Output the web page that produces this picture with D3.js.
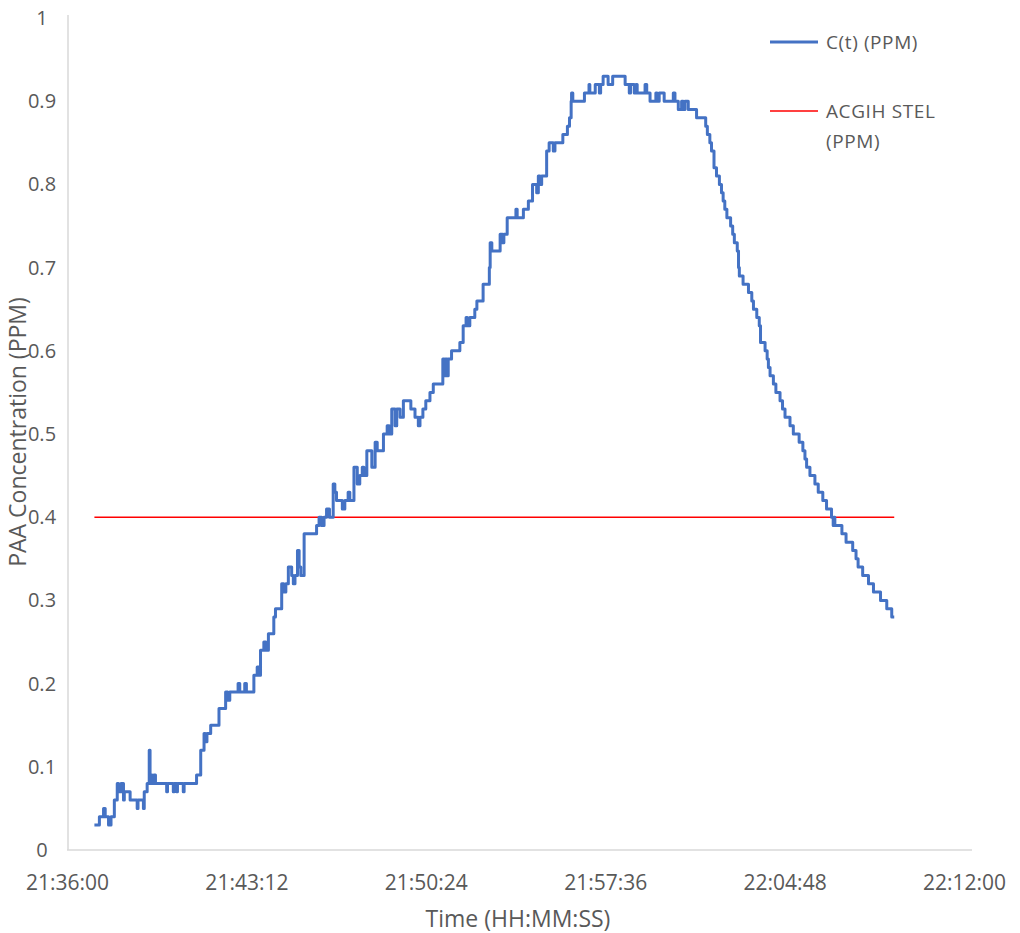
<!DOCTYPE html>
<html lang="en">
<head>
    <meta charset="UTF-8">
    <title>PAA Concentration</title>
    <script src="https://d3js.org/d3.v7.min.js"></script>
    <style>
        body {
            margin: 0;
            background: #fff;
            font-family: "Open Sans", Arial, sans-serif;
        }
        .tick text {
            fill: #595959;
        }
    </style>
</head>
<body>
    <div class="chart"></div>

    <script>
        // seconds after 21:36:00 and the measured concentration (ppm)
        const elapsedSec = [
            66, 74, 78, 86, 88, 92, 96, 100, 104, 106, 112, 114, 118, 121, 124, 130, 136, 138, 149, 152,
            166, 169, 171, 181, 184, 186, 191, 193, 196, 198, 200, 202, 205, 209, 213, 238, 240, 242, 254, 256,
            258, 262, 264, 266, 278, 280, 282, 310, 312, 318, 322, 326, 330, 333, 337, 341, 346, 362, 366, 375,
            382, 387, 392, 408, 412, 416, 424, 428, 432, 444, 450, 458, 462, 466, 470, 474, 479, 485, 490, 498,
            502, 510, 517, 522, 527, 533, 541, 545, 549, 555, 559, 563, 567, 571, 589, 601, 607, 613, 619, 625,
            632, 637, 641, 645, 649, 657, 663, 669, 677, 681, 691, 699, 705, 711, 715, 722, 730, 734, 742, 747,
            758, 762, 771, 776, 782, 790, 794, 802, 810, 822, 828, 838, 846, 850, 857, 864, 874, 882, 900, 905,
            908, 911, 915, 918, 926, 942, 946, 954, 961, 964, 970, 978, 982, 987, 996, 1002, 1014, 1017, 1019, 1023,
            1039, 1043, 1049, 1052, 1060, 1079, 1081, 1084, 1095, 1099, 1107, 1111, 1117, 1121, 1127, 1131, 1135, 1139, 1143, 1151,
            1155, 1161, 1167, 1171, 1175, 1189, 1194, 1199, 1205, 1210, 1214, 1215, 1218, 1242, 1246, 1254, 1257, 1259, 1269, 1272,
            1279, 1282, 1285, 1291, 1300, 1303, 1309, 1314, 1336, 1344, 1349, 1354, 1357, 1364, 1366, 1370, 1373, 1388, 1392, 1396,
            1400, 1404, 1413, 1418, 1421, 1426, 1434, 1438, 1456, 1460, 1464, 1468, 1472, 1476, 1480, 1484, 1488, 1492, 1496, 1512,
            1516, 1532, 1538, 1542, 1548, 1552, 1558, 1564, 1571, 1576, 1580, 1584, 1589, 1598, 1603, 1607, 1614, 1617, 1619, 1628,
            1641, 1649, 1653, 1661, 1667, 1670, 1681, 1686, 1689, 1693, 1701, 1707, 1717, 1723, 1729, 1741, 1749, 1763, 1772, 1777,
            1781, 1789, 1801, 1809, 1820, 1829, 1841, 1845, 1847, 1849, 1866, 1876, 1892, 1900, 1905, 1916, 1930, 1942, 1959, 1974,
            1986, 1992
        ];
        const ppm = [
            .03, .03, .04, .04, .05, .04, .04, .03, .03, .04, .04, .06, .06, .08, .07, .08, .06, .07, .07, .06,
            .06, .05, .06, .06, .05, .07, .07, .08, .08, .12, .08, .09, .08, .09, .08, .08, .07, .08, .08, .07,
            .08, .08, .07, .08, .08, .07, .08, .08, .09, .09, .12, .12, .14, .13, .14, .14, .15, .15, .17, .17,
            .19, .18, .19, .19, .20, .19, .19, .20, .19, .19, .21, .22, .21, .24, .24, .25, .24, .26, .26, .28,
            .29, .29, .32, .31, .32, .34, .33, .32, .33, .36, .34, .33, .33, .38, .38, .39, .40, .39, .40, .41,
            .40, .40, .44, .43, .42, .42, .41, .42, .43, .42, .46, .44, .45, .46, .45, .48, .48, .46, .49, .48,
            .48, .50, .51, .50, .53, .51, .53, .52, .54, .54, .53, .52, .51, .52, .53, .54, .55, .56, .56, .59,
            .57, .59, .57, .59, .60, .60, .61, .63, .64, .63, .64, .64, .65, .66, .66, .68, .68, .70, .73, .72,
            .72, .74, .73, .74, .76, .76, .77, .76, .76, .77, .77, .78, .78, .80, .80, .79, .81, .80, .81, .81,
            .84, .85, .85, .84, .85, .85, .86, .86, .87, .88, .90, .91, .90, .90, .91, .91, .92, .91, .91, .92,
            .92, .91, .92, .93, .93, .92, .92, .93, .93, .92, .92, .91, .92, .92, .91, .92, .91, .91, .92, .91,
            .91, .90, .90, .91, .90, .91, .91, .90, .90, .91, .90, .90, .89, .89, .90, .89, .90, .90, .89, .89,
            .88, .88, .87, .86, .85, .84, .82, .81, .80, .79, .78, .77, .76, .75, .74, .73, .72, .70, .69, .68,
            .67, .66, .65, .64, .63, .61, .60, .59, .58, .57, .56, .55, .54, .53, .52, .51, .50, .49, .48, .47,
            .46, .45, .44, .43, .42, .41, .40, .39, .40, .39, .38, .37, .36, .35, .34, .33, .32, .31, .30, .29,
            .28, .28
        ];
        const stelPPM = 0.4;
        const xTickLabels = ['21:36:00', '21:43:12', '21:50:24', '21:57:36', '22:04:48', '22:12:00'];
        const yTicks = [0, 0.1, 0.2, 0.3, 0.4, 0.5, 0.6, 0.7, 0.8, 0.9, 1];
        const seriesNames = ['C(t) (PPM)', 'ACGIH STEL (PPM)'];

        const W = 1020, H = 933;
        const parseClock = d3.timeParse('%H:%M:%S');
        const start = parseClock('21:36:00');
        const toDate = s => new Date(start.getTime() + s * 1000);

        const data = elapsedSec.map((s, i) => ({ t: toDate(s), v: ppm[i] }));

        const svg = d3.select('.chart')
            .append('svg')
            .attr('width', W)
            .attr('height', H);

        const x = d3.scaleTime()
            .domain([parseClock(xTickLabels[0]), parseClock(xTickLabels[xTickLabels.length - 1])])
            .range([67, 964]);

        const y = d3.scaleLinear()
            .domain([0, 1])
            .range([850, 18]);

        // axis lines
        svg.append('line')
            .attr('x1', 68).attr('x2', 68)
            .attr('y1', 15).attr('y2', y(0))
            .attr('stroke', '#d9d9d9').attr('stroke-width', 1.5);
        svg.append('line')
            .attr('x1', 67).attr('x2', 972)
            .attr('y1', y(0)).attr('y2', y(0))
            .attr('stroke', '#d9d9d9').attr('stroke-width', 1.5);

        const yAxis = svg.append('g')
            .attr('transform', 'translate(68,0)')
            .call(d3.axisLeft(y).tickValues(yTicks).tickSize(0).tickFormat(d3.format('~g')));
        yAxis.select('.domain').remove();
        yAxis.selectAll('text')
            .attr('x', -26)
            .attr('text-anchor', 'middle')
            .attr('font-family', '"Open Sans", sans-serif')
            .attr('font-size', 20);

        const xAxis = svg.append('g')
            .attr('transform', `translate(0,${y(0)})`)
            .call(d3.axisBottom(x)
                .tickValues(xTickLabels.map(parseClock))
                .tickSize(0)
                .tickPadding(25)
                .tickFormat(d3.timeFormat('%H:%M:%S')));
        xAxis.select('.domain').remove();
        xAxis.selectAll('text')
            .attr('font-family', '"Open Sans", sans-serif')
            .attr('font-size', 21);

        // STEL line
        const ext = d3.extent(data, d => d.t);
        svg.append('line')
            .attr('x1', x(ext[0])).attr('x2', x(ext[1]))
            .attr('y1', y(stelPPM)).attr('y2', y(stelPPM))
            .attr('stroke', '#ff0000').attr('stroke-width', 1.5);

        const line = d3.line()
            .x(d => x(d.t))
            .y(d => y(d.v))
            .curve(d3.curveStepAfter);

        svg.append('path')
            .datum(data)
            .attr('fill', 'none')
            .attr('stroke', '#4472c4')
            .attr('stroke-width', 3)
            .attr('stroke-linejoin', 'round')
            .attr('d', line);

        // axis titles
        svg.append('text')
            .attr('transform', 'translate(26,432) rotate(-90)')
            .attr('text-anchor', 'middle')
            .attr('font-size', 23)
            .attr('fill', '#595959')
            .text('PAA Concentration (PPM)');

        svg.append('text')
            .attr('x', 518).attr('y', 927)
            .attr('text-anchor', 'middle')
            .attr('font-size', 23)
            .attr('fill', '#595959')
            .text('Time (HH:MM:SS)');

        // legend
        const legend = svg.append('g')
            .attr('font-size', 19)
            .attr('letter-spacing', 0.6)
            .attr('fill', '#595959');
        legend.append('line')
            .attr('x1', 770).attr('x2', 818).attr('y1', 42).attr('y2', 42)
            .attr('stroke', '#4472c4').attr('stroke-width', 3);
        legend.append('text').attr('x', 826).attr('y', 49).text(seriesNames[0]);
        legend.append('line')
            .attr('x1', 770).attr('x2', 818).attr('y1', 111).attr('y2', 111)
            .attr('stroke', '#ff0000').attr('stroke-width', 1.5);
        const stelLabel = legend.append('text').attr('x', 826).attr('y', 118);
        stelLabel.append('tspan').text('ACGIH STEL');
        stelLabel.append('tspan').attr('x', 826).attr('dy', 30).text('(PPM)');
    </script>
</body>
</html>
